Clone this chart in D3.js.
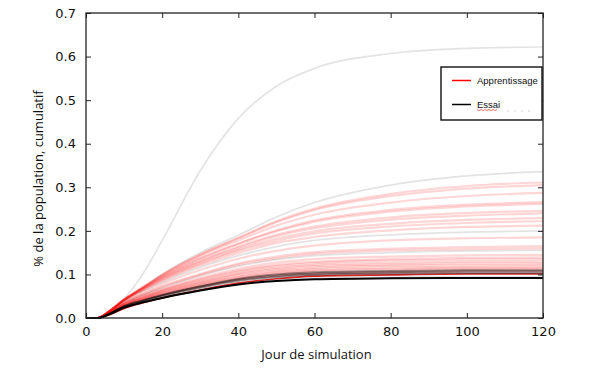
<!DOCTYPE html>
<meta charset="utf-8">
<script src="https://cdn.jsdelivr.net/npm/d3@7"></script>
<style>
  body { margin: 0; background: #fff; }
</style>
<div id="vis"></div>
<script>

    // days where each run was sampled
    var days = [0, 3, 6, 10, 15, 20, 30, 40, 50, 60, 80, 100, 120];

    // "Apprentissage" runs (red, faint)
    var learnRuns = [
        [0, 0, 0.015, 0.042, 0.071, 0.099, 0.146, 0.184, 0.222, 0.251, 0.285, 0.303, 0.311],
        [0, 0, 0.015, 0.042, 0.071, 0.099, 0.145, 0.183, 0.220, 0.248, 0.280, 0.297, 0.305],
        [0, 0, 0.015, 0.042, 0.070, 0.097, 0.142, 0.178, 0.212, 0.237, 0.265, 0.280, 0.287],
        [0, 0, 0.015, 0.042, 0.069, 0.095, 0.137, 0.171, 0.201, 0.224, 0.248, 0.260, 0.266],
        [0, 0, 0.015, 0.042, 0.069, 0.094, 0.136, 0.170, 0.199, 0.221, 0.244, 0.256, 0.262],
        [0, 0, 0.015, 0.042, 0.068, 0.092, 0.131, 0.164, 0.191, 0.210, 0.231, 0.241, 0.246],
        [0, 0, 0.015, 0.042, 0.067, 0.091, 0.130, 0.161, 0.188, 0.206, 0.226, 0.235, 0.240],
        [0, 0, 0.015, 0.041, 0.066, 0.089, 0.126, 0.157, 0.182, 0.199, 0.216, 0.225, 0.229],
        [0, 0, 0.014, 0.041, 0.065, 0.087, 0.124, 0.154, 0.177, 0.194, 0.210, 0.218, 0.222],
        [0, 0, 0.014, 0.040, 0.064, 0.085, 0.120, 0.149, 0.172, 0.186, 0.201, 0.209, 0.212],
        [0, 0, 0.013, 0.038, 0.059, 0.078, 0.110, 0.136, 0.154, 0.166, 0.178, 0.183, 0.185],
        [0, 0, 0.012, 0.036, 0.055, 0.073, 0.101, 0.125, 0.141, 0.151, 0.159, 0.163, 0.165],
        [0, 0, 0.012, 0.035, 0.054, 0.071, 0.099, 0.122, 0.137, 0.147, 0.155, 0.158, 0.160],
        [0, 0, 0.011, 0.033, 0.051, 0.066, 0.092, 0.113, 0.127, 0.135, 0.141, 0.144, 0.145],
        [0, 0, 0.011, 0.032, 0.049, 0.064, 0.089, 0.109, 0.122, 0.129, 0.135, 0.138, 0.139],
        [0, 0, 0.011, 0.032, 0.048, 0.063, 0.087, 0.107, 0.119, 0.126, 0.132, 0.134, 0.135],
        [0, 0, 0.010, 0.031, 0.047, 0.061, 0.084, 0.103, 0.115, 0.122, 0.127, 0.129, 0.130],
        [0, 0, 0.010, 0.030, 0.046, 0.060, 0.082, 0.101, 0.112, 0.119, 0.123, 0.125, 0.126],
        [0, 0, 0.010, 0.030, 0.045, 0.058, 0.080, 0.098, 0.109, 0.115, 0.120, 0.121, 0.122],
        [0, 0, 0.010, 0.029, 0.044, 0.057, 0.078, 0.095, 0.106, 0.112, 0.116, 0.117, 0.118],
        [0, 0, 0.010, 0.028, 0.043, 0.055, 0.076, 0.093, 0.104, 0.109, 0.113, 0.114, 0.115],
        [0, 0, 0.009, 0.028, 0.042, 0.054, 0.075, 0.091, 0.101, 0.107, 0.110, 0.112, 0.112],
        [0, 0, 0.009, 0.027, 0.041, 0.053, 0.072, 0.089, 0.098, 0.103, 0.106, 0.108, 0.108],
        [0, 0, 0.009, 0.027, 0.040, 0.051, 0.071, 0.086, 0.096, 0.101, 0.104, 0.105, 0.105]
    ];
    // the one strong red run near the bottom
    var learnStrong = [0, 0, 0.007, 0.022, 0.035, 0.046, 0.064, 0.080, 0.090, 0.096, 0.099, 0.101, 0.101];

    // pale grey runs
    var greyRuns = [
        [0, 0, 0.012, 0.044, 0.102, 0.178, 0.338, 0.458, 0.532, 0.573, 0.607, 0.619, 0.622],
        [0, 0, 0.015, 0.040, 0.070, 0.100, 0.150, 0.190, 0.232, 0.265, 0.305, 0.326, 0.336],
        [0, 0, 0.014, 0.040, 0.062, 0.082, 0.116, 0.143, 0.164, 0.178, 0.191, 0.197, 0.200],
        [0, 0, 0.012, 0.035, 0.053, 0.069, 0.097, 0.119, 0.134, 0.143, 0.150, 0.154, 0.155],
        [0, 0, 0.008, 0.025, 0.037, 0.048, 0.065, 0.080, 0.088, 0.092, 0.094, 0.095, 0.095]
    ];

    // "Essai" runs (black)
    var trialRuns = [
        [0, 0, 0.009, 0.027, 0.041, 0.053, 0.073, 0.090, 0.100, 0.105, 0.108, 0.110, 0.110],
        [0, 0, 0.009, 0.027, 0.040, 0.052, 0.072, 0.088, 0.097, 0.102, 0.105, 0.107, 0.107],
        [0, 0, 0.009, 0.026, 0.039, 0.051, 0.069, 0.085, 0.094, 0.099, 0.102, 0.103, 0.103]
    ];
    var trialMain = [0, 0, 0.008, 0.024, 0.036, 0.046, 0.063, 0.077, 0.085, 0.089, 0.091, 0.092, 0.092];

    var xTicks = [0, 20, 40, 60, 80, 100, 120];
    var yTicks = [0.0, 0.1, 0.2, 0.3, 0.4, 0.5, 0.6, 0.7];
    var legendLabels = ["Apprentissage", "Essai"];
    var legendColors = ["#ff0000", "#000000"];

    var margin = { top: 13, right: 57, bottom: 62, left: 86 },
        width = 600 - margin.left - margin.right,
        height = 380 - margin.top - margin.bottom;

    var svg = d3.select("#vis")
        .append("svg")
        .attr("width", 600)
        .attr("height", 380)
        .append("g")
        .attr("transform", "translate(" + margin.left + "," + margin.top + ")");

    var x = d3.scaleLinear().domain([0, 120]).range([0, width]);
    var y = d3.scaleLinear().domain([0, 0.7]).range([height, 0]);

    var line = d3.line()
        .x(function (d, i) { return x(days[i]); })
        .y(function (d) { return y(d); })
        .curve(d3.curveMonotoneX);

    var plot = svg.append("g");

    // grey runs first, red over them, black on top
    plot.selectAll(".grey")
        .data(greyRuns)
        .enter()
        .append("path")
        .attr("d", line)
        .style("fill", "none")
        .style("stroke", "#000")
        .style("stroke-opacity", 0.11)
        .style("stroke-width", 1.7);

    plot.selectAll(".learn")
        .data(learnRuns)
        .enter()
        .append("path")
        .attr("d", line)
        .style("fill", "none")
        .style("stroke", "#ff0000")
        .style("stroke-opacity", 0.16)
        .style("stroke-width", 2.2);

    plot.append("path")
        .attr("d", line(learnStrong))
        .style("fill", "none")
        .style("stroke", "#d00000")
        .style("stroke-opacity", 0.85)
        .style("stroke-width", 1.6);

    plot.selectAll(".trial")
        .data(trialRuns)
        .enter()
        .append("path")
        .attr("d", line)
        .style("fill", "none")
        .style("stroke", "#000")
        .style("stroke-opacity", 0.4)
        .style("stroke-width", 1.8);

    plot.append("path")
        .attr("d", line(trialMain))
        .style("fill", "none")
        .style("stroke", "#000")
        .style("stroke-width", 2);

    // axes, ticks pointing inside on all four sides
    var tickFont = "DejaVu Sans, sans-serif";

    var gx = svg.append("g")
        .attr("transform", "translate(0," + height + ")")
        .call(d3.axisBottom(x).tickValues(xTicks).tickSizeInner(-5).tickSizeOuter(0).tickPadding(9));
    var gxTop = svg.append("g")
        .call(d3.axisTop(x).tickValues(xTicks).tickSizeInner(-5).tickSizeOuter(0).tickFormat(""));
    var gy = svg.append("g")
        .call(d3.axisLeft(y).tickValues(yTicks).tickSizeInner(-5).tickSizeOuter(0).tickPadding(10)
            .tickFormat(d3.format(".1f")));
    var gyRight = svg.append("g")
        .attr("transform", "translate(" + width + ",0)")
        .call(d3.axisRight(y).tickValues(yTicks).tickSizeInner(-5).tickSizeOuter(0).tickFormat(""));

    [gx, gxTop, gy, gyRight].forEach(function (g) {
        g.select(".domain").remove();
        g.selectAll("line").style("stroke", "#222").style("stroke-width", 1);
        g.selectAll("text")
            .style("font-family", tickFont)
            .style("font-size", "13px")
            .style("fill", "#111");
    });

    // frame
    svg.append("rect")
        .attr("x", 0)
        .attr("y", 0)
        .attr("width", width)
        .attr("height", height)
        .style("fill", "none")
        .style("stroke", "#222")
        .style("stroke-width", 1.3);

    // axis titles
    svg.append("text")
        .attr("x", width / 2 + 2)
        .attr("y", height + 41)
        .attr("text-anchor", "middle")
        .style("font-family", "Open Sans, sans-serif")
        .style("font-size", "13px")
        .style("fill", "#111")
        .text("Jour de simulation");

    svg.append("text")
        .attr("transform", "translate(" + (-43) + "," + (height / 2 + 13) + ") rotate(-90)")
        .attr("text-anchor", "middle")
        .style("font-family", "Open Sans, sans-serif")
        .style("font-size", "13px")
        .style("fill", "#111")
        .text("% de la population, cumulatif");

    // legend box (pasted on top of the figure)
    var lg = svg.append("g")
        .attr("transform", "translate(" + (441 - margin.left) + "," + (67 - margin.top) + ")");

    lg.append("rect")
        .attr("width", 101)
        .attr("height", 53)
        .style("fill", "#fff")
        .style("stroke", "#111")
        .style("stroke-width", 1.4);

    lg.selectAll(".lgline")
        .data(legendLabels)
        .enter()
        .append("line")
        .attr("x1", 11)
        .attr("x2", 30)
        .attr("y1", function (d, i) { return 13.5 + i * 24; })
        .attr("y2", function (d, i) { return 13.5 + i * 24; })
        .style("stroke", function (d, i) { return legendColors[i]; })
        .style("stroke-width", 1.5);

    lg.selectAll(".lgtext")
        .data(legendLabels)
        .enter()
        .append("text")
        .attr("x", 36)
        .attr("y", function (d, i) { return 16.5 + i * 24; })
        .style("font-family", "Liberation Sans, Arial, sans-serif")
        .style("font-size", "9.5px")
        .style("fill", "#111")
        .text(function (d) { return d; });

    // red spell-check squiggle under "Essai" and faint dots after it
    var sq = [];
    for (var k = 0; k <= 10; k++) sq.push([36 + k * 2, 42.5 + (k % 2 ? 1 : 0)]);
    lg.append("path")
        .attr("d", d3.line()(sq))
        .style("fill", "none")
        .style("stroke", "#e03030")
        .style("stroke-width", 0.7);

    lg.selectAll(".dot")
        .data([0, 1, 2, 3])
        .enter()
        .append("circle")
        .attr("cx", function (d) { return 67 + d * 7; })
        .attr("cy", 44)
        .attr("r", 0.8)
        .style("fill", "#ccc");

</script>
